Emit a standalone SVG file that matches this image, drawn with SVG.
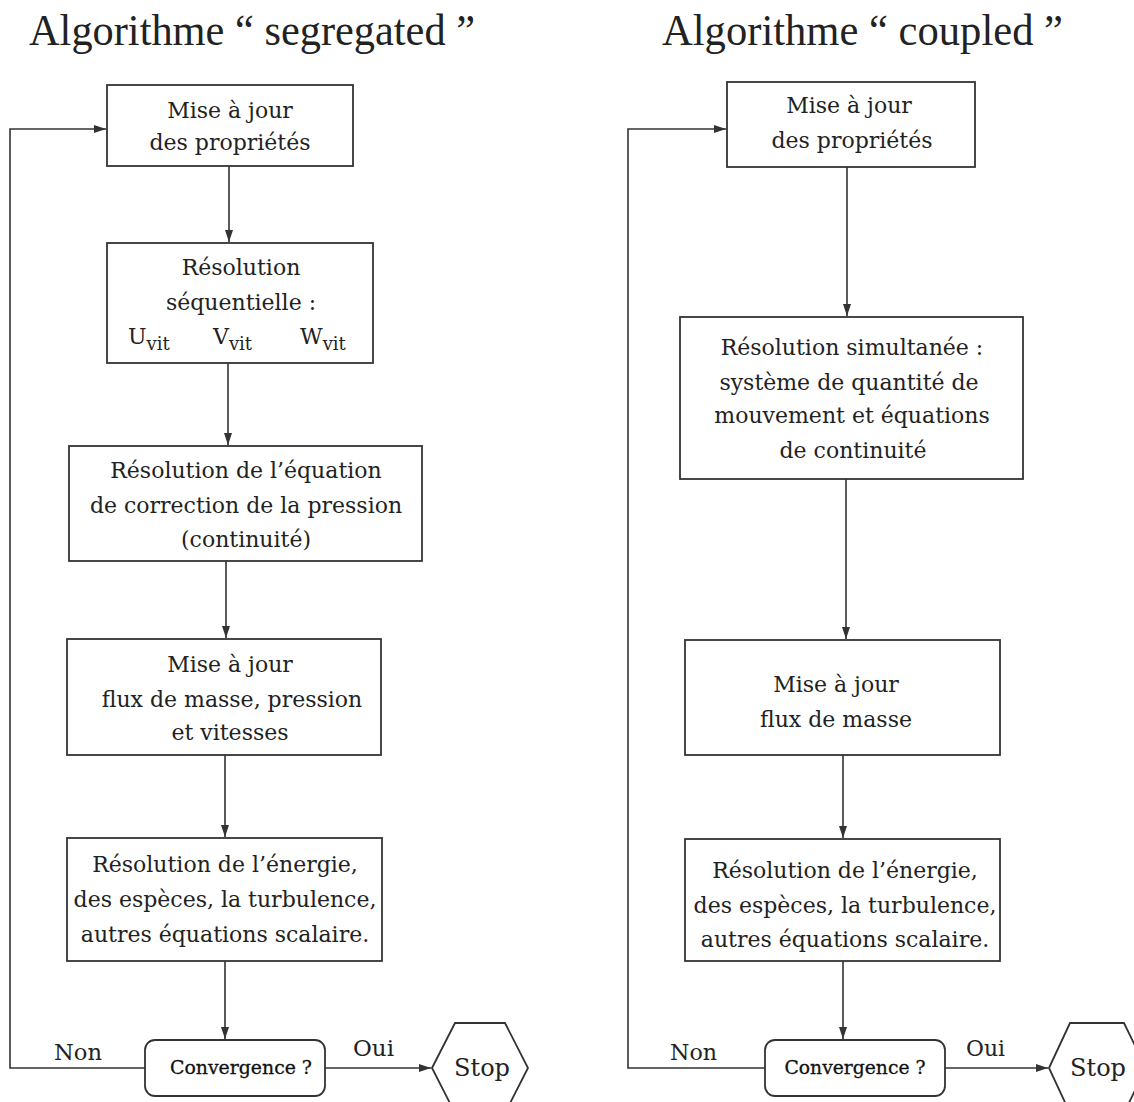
<svg xmlns="http://www.w3.org/2000/svg" width="1134" height="1102" viewBox="0 0 1134 1102">
<defs>
<style>
.box{fill:#fff;stroke:#333;stroke-width:1.8}
.t{font-family:"DejaVu Serif","Liberation Serif",serif;font-size:22px;fill:#222;text-anchor:middle}
.ts{font-family:"DejaVu Serif","Liberation Serif",serif;font-size:22px;fill:#222;text-anchor:start}
.title{font-family:"Liberation Serif",serif;font-size:45px;fill:#222}
.lbl{font-family:"DejaVu Serif","Liberation Serif",serif;font-size:22px;fill:#222}
.conv{font-family:"DejaVu Serif","Liberation Serif",serif;font-size:18px;fill:#111;stroke:#111;stroke-width:0.3;text-anchor:middle}
.stop{font-family:"DejaVu Serif","Liberation Serif",serif;font-size:24px;fill:#222;text-anchor:middle}
.sub{font-size:18px}
.c{fill:none;stroke:#333;stroke-width:1.6}
</style>
<marker id="ah" viewBox="0 0 12 8" refX="12" refY="4" markerWidth="12" markerHeight="8" markerUnits="userSpaceOnUse" orient="auto">
<path d="M0,0 L12,4 L0,8 Z" fill="#333"/>
</marker>
</defs>
<rect width="1134" height="1102" fill="#fff"/>

<text class="title" x="29" y="45" textLength="446" lengthAdjust="spacingAndGlyphs">Algorithme “ segregated ”</text>
<text class="title" x="662" y="45" textLength="401" lengthAdjust="spacingAndGlyphs">Algorithme “ coupled ”</text>

<g id="connectors">
<path class="c" d="M145,1068 H10 V129 H106" marker-end="url(#ah)"/>
<path class="c" d="M229,166 V242" marker-end="url(#ah)"/>
<path class="c" d="M228,363 V445" marker-end="url(#ah)"/>
<path class="c" d="M226,561 V638" marker-end="url(#ah)"/>
<path class="c" d="M225,755 V837" marker-end="url(#ah)"/>
<path class="c" d="M225,961 V1039" marker-end="url(#ah)"/>
<path class="c" d="M325,1068 H431" marker-end="url(#ah)"/>
<path class="c" d="M765,1068 H628 V129 H726" marker-end="url(#ah)"/>
<path class="c" d="M847,167 V316" marker-end="url(#ah)"/>
<path class="c" d="M846,479 V639" marker-end="url(#ah)"/>
<path class="c" d="M843,755 V838" marker-end="url(#ah)"/>
<path class="c" d="M843,961 V1039" marker-end="url(#ah)"/>
<path class="c" d="M945,1068 H1048" marker-end="url(#ah)"/>
<text class="lbl" x="54" y="1060" textLength="48" lengthAdjust="spacingAndGlyphs">Non</text>
<text class="lbl" x="353" y="1056" textLength="41" lengthAdjust="spacingAndGlyphs">Oui</text>
<text class="lbl" x="670" y="1060" textLength="47" lengthAdjust="spacingAndGlyphs">Non</text>
<text class="lbl" x="966" y="1056" textLength="39" lengthAdjust="spacingAndGlyphs">Oui</text>
</g>

<g id="s-maj-prop">
<rect class="box" x="107" y="85" width="246" height="81"/>
<text class="t" x="230" y="118">Mise à jour</text>
<text class="t" x="230" y="150">des propriétés</text>
</g>

<g id="s-res-seq">
<rect class="box" x="107" y="243" width="266" height="120"/>
<text class="t" x="241" y="275">Résolution</text>
<text class="t" x="241" y="310">séquentielle :</text>
<text class="ts" y="344"><tspan x="128">U</tspan><tspan class="sub" dy="6">vit</tspan><tspan x="213" dy="-6">V</tspan><tspan class="sub" dy="6">vit</tspan><tspan x="300" dy="-6">W</tspan><tspan class="sub" dy="6">vit</tspan></text>
</g>

<g id="s-res-press">
<rect class="box" x="69" y="446" width="353" height="115"/>
<text class="t" x="246" y="478">Résolution de l’équation</text>
<text class="t" x="246" y="513">de correction de la pression</text>
<text class="t" x="246" y="547">(continuité)</text>
</g>

<g id="s-maj-flux">
<rect class="box" x="67" y="639" width="314" height="116"/>
<text class="t" x="230" y="672">Mise à jour</text>
<text class="t" x="232" y="707">flux de masse, pression</text>
<text class="t" x="230" y="740">et vitesses</text>
</g>

<g id="s-res-energie">
<rect class="box" x="67" y="838" width="315" height="123"/>
<text class="t" x="225" y="872">Résolution de l’énergie,</text>
<text class="t" x="225" y="907">des espèces, la turbulence,</text>
<text class="t" x="225" y="942">autres équations scalaire.</text>
</g>

<g id="s-conv">
<rect class="box" x="145" y="1040" width="180" height="56" rx="10"/>
<text class="conv" x="241" y="1074" textLength="142" lengthAdjust="spacingAndGlyphs">Convergence ?</text>
</g>

<g id="s-stop">
<polygon class="box" points="432,1068 455,1023 505,1023 528,1068 505,1113 455,1113"/>
<text class="stop" x="482" y="1076">Stop</text>
</g>

<g id="c-maj-prop">
<rect class="box" x="727" y="82" width="248" height="85"/>
<text class="t" x="849" y="113">Mise à jour</text>
<text class="t" x="852" y="148">des propriétés</text>
</g>

<g id="c-res-sim">
<rect class="box" x="680" y="317" width="343" height="162"/>
<text class="t" x="852" y="355">Résolution simultanée :</text>
<text class="t" x="849" y="390">système de quantité de</text>
<text class="t" x="852" y="423">mouvement et équations</text>
<text class="t" x="853" y="458">de continuité</text>
</g>

<g id="c-maj-flux">
<rect class="box" x="685" y="640" width="315" height="115"/>
<text class="t" x="836" y="692">Mise à jour</text>
<text class="t" x="836" y="727">flux de masse</text>
</g>

<g id="c-res-energie">
<rect class="box" x="685" y="839" width="315" height="122"/>
<text class="t" x="845" y="878">Résolution de l’énergie,</text>
<text class="t" x="845" y="913">des espèces, la turbulence,</text>
<text class="t" x="845" y="947">autres équations scalaire.</text>
</g>

<g id="c-conv">
<rect class="box" x="765" y="1040" width="180" height="56" rx="10"/>
<text class="conv" x="855" y="1074" textLength="141" lengthAdjust="spacingAndGlyphs">Convergence ?</text>
</g>

<g id="c-stop">
<polygon class="box" points="1049,1068 1070,1023 1124,1023 1146,1068 1124,1113 1070,1113"/>
<text class="stop" x="1098" y="1076">Stop</text>
</g>
</svg>
